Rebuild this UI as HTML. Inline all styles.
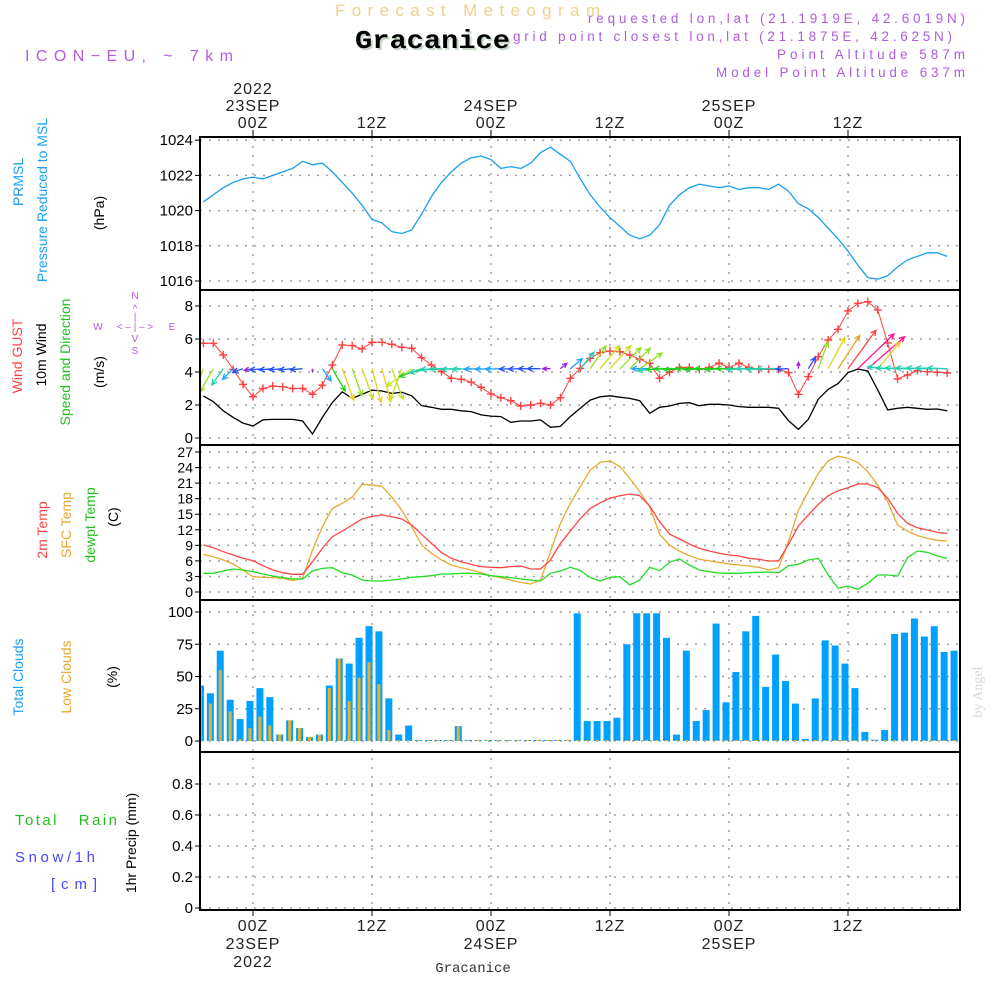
<!DOCTYPE html>
<html><head><meta charset="utf-8">
<style>
html,body{margin:0;padding:0;background:#fff;}
svg{display:block;font-family:"Liberation Sans",sans-serif;}
</style></head>
<body>
<svg id="c" width="1000" height="1000" viewBox="0 0 1000 1000" xmlns="http://www.w3.org/2000/svg">
<!-- header -->
<text x="335" y="16" font-size="17" fill="#f3cf8c" textLength="265" lengthAdjust="spacing">Forecast Meteogram</text>
<text x="357" y="50" font-size="26" font-weight="bold" font-family="Liberation Mono, monospace" fill="#c8d8c8" textLength="155" lengthAdjust="spacingAndGlyphs">Gracanice</text>
<text x="355" y="48" font-size="26" font-weight="bold" font-family="Liberation Mono, monospace" fill="#000" textLength="155" lengthAdjust="spacingAndGlyphs">Gracanice</text>
<text x="25" y="61" font-size="16" fill="#b05ce0" textLength="208" lengthAdjust="spacing">ICON−EU, ~ 7km</text>
<g font-size="13.5" fill="#b05ce0">
<text x="588" y="23" textLength="377" lengthAdjust="spacing">requested lon,lat (21.1919E, 42.6019N)</text>
<text x="513" y="41" textLength="439" lengthAdjust="spacing">grid point closest lon,lat (21.1875E, 42.625N)</text>
<text x="777" y="59" textLength="188" lengthAdjust="spacing">Point Altitude 587m</text>
<text x="716" y="77" textLength="249" lengthAdjust="spacing">Model Point Altitude 637m</text>
</g>
<!-- left titles -->
<g font-size="14">
<text transform="translate(23,182) rotate(-90)" text-anchor="middle" fill="#1aa0f0">PRMSL</text>
<text transform="translate(47,200) rotate(-90)" text-anchor="middle" fill="#1aa0f0">Pressure Reduced to MSL</text>
<text transform="translate(104,213) rotate(-90)" text-anchor="middle" fill="#000">(hPa)</text>
<text transform="translate(22,356) rotate(-90)" text-anchor="middle" fill="#ff4040">Wind GUST</text>
<text transform="translate(46,355) rotate(-90)" text-anchor="middle" fill="#000">10m Wind</text>
<text transform="translate(70,362) rotate(-90)" text-anchor="middle" fill="#20c020">Speed and Direction</text>
<text transform="translate(104,372) rotate(-90)" text-anchor="middle" fill="#000">(m/s)</text>
<text transform="translate(47,530) rotate(-90)" text-anchor="middle" fill="#ff4040">2m Temp</text>
<text transform="translate(71,525) rotate(-90)" text-anchor="middle" fill="#e8a830">SFC Temp</text>
<text transform="translate(95,525) rotate(-90)" text-anchor="middle" fill="#20c020">dewpt Temp</text>
<text transform="translate(118,517) rotate(-90)" text-anchor="middle" fill="#000">(C)</text>
<text transform="translate(23,677) rotate(-90)" text-anchor="middle" fill="#1aa0f0">Total Clouds</text>
<text transform="translate(71,677) rotate(-90)" text-anchor="middle" fill="#e8a830">Low Clouds</text>
<text transform="translate(117,677) rotate(-90)" text-anchor="middle" fill="#000">(%)</text>
<text transform="translate(136,843) rotate(-90)" text-anchor="middle" fill="#000">1hr Precip (mm)</text>
</g>
<g font-size="15">
<text x="15" y="825" fill="#20c020" textLength="102" lengthAdjust="spacing">Total&#160;&#160;&#160;Rain</text>
<text x="15" y="862" fill="#4848ff" textLength="80" lengthAdjust="spacing">Snow/1h</text>
<text x="51" y="889" fill="#4848ff" textLength="46" lengthAdjust="spacing">[cm]</text>
</g>
<!-- compass -->
<g fill="#b05ce0" font-size="10" text-anchor="middle">
<text x="135" y="299">N</text><text x="135" y="312">^</text><text x="135" y="320">|</text>
<text x="135" y="330">&lt; – | – &gt;</text>
<text x="98" y="330">W</text><text x="172" y="330">E</text>
<text x="135" y="342">V</text><text x="135" y="354">S</text>
</g>
<text transform="translate(982,692) rotate(-90)" text-anchor="middle" font-size="14" font-family="Liberation Serif, serif" fill="#d8d8d8">by Angel</text>
<text x="473" y="972" text-anchor="middle" font-size="14" font-family="Liberation Mono, monospace" fill="#333">Gracanice</text>
<g id="plot"></g>
</svg>
<script>
const hours = [];for(let h=-5;h<=70;h++)hours.push(h);
const pressure=[1020.5,1020.9,1021.3,1021.6,1021.8,1021.9,1021.8,1022.0,1022.2,1022.4,1022.8,1022.6,1022.7,1022.2,1021.6,1021.0,1020.3,1019.5,1019.3,1018.8,1018.7,1018.9,1019.8,1020.8,1021.6,1022.2,1022.7,1023.0,1023.1,1022.9,1022.4,1022.5,1022.4,1022.7,1023.3,1023.6,1023.2,1022.8,1021.8,1020.9,1020.2,1019.6,1019.1,1018.6,1018.4,1018.6,1019.2,1020.3,1020.9,1021.3,1021.5,1021.4,1021.3,1021.4,1021.2,1021.3,1021.3,1021.2,1021.5,1021.1,1020.4,1020.1,1019.6,1019.0,1018.4,1017.7,1016.9,1016.2,1016.1,1016.3,1016.8,1017.2,1017.4,1017.6,1017.6,1017.4];
const wind10=[2.55,2.2,1.65,1.25,0.9,0.73,1.1,1.13,1.13,1.13,1.03,0.24,1.25,2.15,2.8,2.4,2.65,2.9,2.85,2.7,2.77,2.56,1.96,1.86,1.74,1.74,1.65,1.6,1.4,1.33,1.3,0.95,1.03,1.03,1.1,0.65,0.7,1.3,1.8,2.3,2.5,2.56,2.47,2.4,2.26,1.5,1.86,1.94,2.1,2.14,1.96,2.04,2.04,2.0,1.9,1.86,1.86,1.86,1.8,1.05,0.53,1.13,2.35,2.95,3.3,3.96,4.18,4.06,2.9,1.7,1.8,1.86,1.8,1.74,1.76,1.65];
const gust=[5.74,5.74,5.03,4.16,3.25,2.5,3.0,3.15,3.1,3.0,3.0,2.65,3.2,4.42,5.64,5.6,5.4,5.8,5.8,5.68,5.5,5.44,4.87,4.42,4.02,3.62,3.56,3.38,3.07,2.67,2.44,2.26,1.94,2.0,2.1,2.0,2.44,3.62,4.22,4.83,5.17,5.27,5.23,5.03,4.77,4.53,3.62,3.98,4.28,4.28,4.16,4.28,4.53,4.28,4.53,4.28,4.16,4.16,4.16,3.96,2.65,3.72,4.93,5.94,6.59,7.7,8.16,8.26,7.76,5.76,3.58,3.82,4.08,4.02,3.98,3.94];
const windDir=[250,240,235,225,200,190,185,185,185,185,185,270,305,300,290,290,290,285,285,290,250,215,200,190,182,182,182,182,182,182,182,182,182,180,180,180,40,40,50,55,50,48,45,45,35,180,185,182,180,182,180,182,180,182,180,182,180,182,180,182,90,58,70,62,57,54,44,41,50,175,178,178,178,178,178,178];
const t2m=[9.06,8.55,7.78,7.14,6.49,6.04,5.08,4.24,3.73,3.41,3.41,5.85,8.42,10.67,11.76,12.92,14.08,14.59,14.85,14.53,14.08,12.92,11.12,9.38,7.59,6.49,5.85,5.33,4.89,4.76,4.69,4.89,5.01,4.44,4.44,6.17,9.38,11.76,14.14,16.1,17.2,18.07,18.58,18.9,18.58,16.59,13.56,11.19,10.22,9.26,8.42,7.91,7.46,7.14,6.94,6.49,6.3,5.98,5.98,9.19,12.73,14.85,16.9,18.58,19.54,20.12,20.83,20.83,20.12,18.07,15.17,13.24,12.41,11.96,11.5,11.31];
const sfcTemp=[7.26,6.81,6.17,5.4,4.24,2.96,2.83,2.77,2.64,2.19,2.64,8.1,12.6,16.1,17.1,18.3,20.8,20.6,20.4,18.3,15.8,12.6,9.06,7.46,6.17,5.2,4.69,4.24,3.73,3.15,2.77,2.31,1.86,1.54,2.31,7.78,13.24,17.1,20.3,23.5,25.0,25.3,24.2,21.9,19.35,16.46,11.12,9.06,7.91,7.01,6.3,6.0,5.72,5.4,5.2,5.01,4.76,4.24,4.69,9.71,15.8,19.35,22.9,25.3,26.2,25.8,25.0,23.2,20.6,17.4,12.9,11.76,10.87,10.35,9.97,9.84];
const dewpt=[3.6,3.6,4.05,4.44,4.24,3.92,3.47,3.09,2.77,2.51,2.51,4.05,4.56,4.69,3.73,3.28,2.31,2.12,2.12,2.31,2.51,2.83,2.96,3.15,3.47,3.47,3.6,3.6,3.47,3.15,2.96,2.77,2.51,2.31,2.12,3.6,4.05,4.76,4.15,2.77,2.12,2.83,2.96,1.35,2.31,4.76,4.11,5.72,6.36,5.2,4.24,3.92,3.66,3.6,3.6,3.73,3.79,3.86,3.73,5.08,5.33,6.17,6.49,3.28,0.71,1.16,0.51,1.67,3.28,3.28,3.09,6.62,7.91,7.65,6.94,6.49];
const cloudHours=[];for(let h=-5;h<=71;h++)cloudHours.push(h);
const totalCloud=[43,37,70,32,17,31,41,34,5,16,10,3,5,43,64,60,80,89,85,33,5,12,0,0,0,0,11.6,0,0,0,0,0,0,0,0,0,0,0,99,15.5,15.5,15.5,18,75,99,99,99,80,5,70,15.5,24,91,30,53.5,85,97,42,67,46.5,29,1.6,33,78,74,60,41,7,1,8.5,83,84,95,81,89,69,70,70];
const lowCloud=[41,29,55,23,1.5,10,19,12,5,16,10,3,5,41,64,31,49,61,44,8.5,0,0,0,0,0,0,11.6,0,0,0,0,0,0,0,0,0,0,0,0,0,0,0,0,0,0,0,0,0,0,0,0,0,0,0,0,0,0,0,0,0,0,0,0,0,0,0,0,0,0,0,0,0,0,0,0,0,0];
const precip=cloudHours.map(()=>0);
const pTicks=[1016,1018,1020,1022,1024];
const wTicks=[0,2,4,6,8];
const tTicks=[0,3,6,9,12,15,18,21,24,27];
const cTicks=[0,25,50,75,100];
const rTicks=[0,0.2,0.4,0.6,0.8];
const rTickLabels=["0","0.2","0.4","0.6","0.8"];
const timeTickHours=[0,12,24,36,48,60];
const timeTickLabels=["00Z","12Z","00Z","12Z","00Z","12Z"];

const NS="http://www.w3.org/2000/svg";
const plot=document.getElementById('plot');
function mk(tag,attrs,parent){const e=document.createElementNS(NS,tag);for(const k in attrs)e.setAttribute(k,attrs[k]);(parent||plot).appendChild(e);return e;}
const X0=200,X1=960;
const xs=h=>253+h*119/12;
const yP=v=>281-(v-1016)*17.6;
const yW=v=>438-v*16.5;
const yT=v=>592-v*5.185;
const yC=v=>741-v*1.29;
const yR=v=>908-v*155;
const panels=[[137,290],[290,445],[445,600],[600,752],[752,910]];

const defs=mk('defs',{});
const cp=mk('clipPath',{id:'clip'},defs);
mk('rect',{x:X0,y:137,width:X1-X0,height:773},cp);

function hgrid(ticks,fy,labels,fs){
  ticks.forEach((t,i)=>{
    const y=fy(t);
    const g=mk('line',{x1:X0,x2:X1,y1:y,y2:y,stroke:'#a0a0a0','stroke-width':1.5,'stroke-dasharray':'2,7'});
    
    
    mk('line',{x1:X0-5,x2:X0,y1:y,y2:y,stroke:'#000'});
    const tx=mk('text',{x:X0-7,y:y+5,'text-anchor':'end','font-size':fs||15,fill:'#000'});
    tx.textContent=labels?labels[i]:String(t);
    
    
  });
}
hgrid(pTicks,yP);hgrid(wTicks,yW);hgrid(tTicks,yT,null,14);hgrid(cTicks,yC);hgrid(rTicks,yR,rTickLabels);
timeTickHours.forEach((h,i)=>{
  const x=xs(h);
  const g=mk('line',{x1:x,x2:x,y1:137,y2:910,stroke:'#a0a0a0','stroke-width':1.5,'stroke-dasharray':'2,7'});
  
  
  mk('line',{x1:x,x2:x,y1:130,y2:137,stroke:'#000'});
  mk('line',{x1:x,x2:x,y1:910,y2:916,stroke:'#000'});
  const t=mk('text',{x:x,y:128,'text-anchor':'middle','font-size':16,fill:'#222','letter-spacing':1});
  t.textContent=timeTickLabels[i];
  
  
  const b=mk('text',{x:x,y:931,'text-anchor':'middle','font-size':16,fill:'#222','letter-spacing':1});
  b.textContent=timeTickLabels[i];
  
  
});
[[0,'23SEP'],[24,'24SEP'],[48,'25SEP']].forEach(d=>{
  const t=mk('text',{x:xs(d[0]),y:111,'text-anchor':'middle','font-size':16,fill:'#222','letter-spacing':1});t.textContent=d[1];
  
  
  const b=mk('text',{x:xs(d[0]),y:949,'text-anchor':'middle','font-size':16,fill:'#222','letter-spacing':1});b.textContent=d[1];
  
  
});
const y1=mk('text',{x:xs(0),y:94,'text-anchor':'middle','font-size':16,fill:'#222','letter-spacing':1});y1.textContent='2022';


const y2=mk('text',{x:xs(0),y:967,'text-anchor':'middle','font-size':16,fill:'#222','letter-spacing':1});y2.textContent='2022';



const data=mk('g',{'clip-path':'url(#clip)'});
function line(vals,fy,color,name,w){
  const d=vals.map((v,i)=>(i?'L':'M')+xs(hours[i]).toFixed(1)+','+fy(v).toFixed(1)).join('');
  const p=mk('path',{d:d,fill:'none',stroke:color,'stroke-width':w||1.3},data);
  
  
}
cloudHours.forEach((h,i)=>{
  const x=xs(h)-3;
  const ht=Math.max(1,totalCloud[i]*1.29);
  const r=mk('rect',{x:x-3.5,y:741-ht,width:7,height:ht,fill:'#00a0ff'},data);
  
  
  const hl=Math.max(1,lowCloud[i]*1.29);
  const r2=mk('rect',{x:x-1.5,y:741-hl,width:3,height:hl,fill:'#e8b030'},data);
  
  
  if(precip[i]>0){const r3=mk('rect',{x:x-3.5,y:yR(precip[i]),width:7,height:908-yR(precip[i]),fill:'#20c020'},data);
  
  }
});
line(pressure,yP,'#1aa0f0','pressure-line');
line(wind10,yW,'#000','wind10-line');
line(gust,yW,'#ff4040','gust-line',1);
gust.forEach((v,i)=>{
  const x=xs(hours[i]),y=yW(v);
  const m=mk('path',{d:`M${x-4},${y}H${x+4}M${x},${y-4}V${y+4}`,stroke:'#ff4040','stroke-width':1.4},data);
  
  
});
function wcol(s){
  if(s<0.8)return '#9a20e0';if(s<1.2)return '#2050ff';if(s<1.6)return '#20a0ff';if(s<1.9)return '#20d0b0';
  if(s<2.2)return '#20d020';if(s<2.5)return '#90e020';if(s<2.8)return '#c8e020';if(s<3.1)return '#e8d020';
  if(s<3.5)return '#e8a020';if(s<4.0)return '#ff4040';return '#ff1090';
}
windDir.forEach((a,i)=>{
  const s=wind10[i],L=s*12,r=a*Math.PI/180;
  const x0=xs(hours[i]),y0=yW(4.2);
  const x1=x0+L*Math.cos(r),y1=y0-L*Math.sin(r);
  const hl=Math.min(6,L*0.6);
  const h1=r+Math.PI-0.45,h2=r+Math.PI+0.45;
  const d=`M${x0},${y0}L${x1},${y1}M${x1+hl*Math.cos(h1)},${y1-hl*Math.sin(h1)}L${x1},${y1}L${x1+hl*Math.cos(h2)},${y1-hl*Math.sin(h2)}`;
  const p=mk('path',{d:d,fill:'none',stroke:wcol(s),'stroke-width':1.3},data);
  
  
});
line(sfcTemp,yT,'#e8a830','sfc-temp-line');
line(t2m,yT,'#ff4444','t2m-line');
line(dewpt,yT,'#22dd22','dewpt-line');
panels.forEach(p=>{
  const r=mk('rect',{x:X0,y:p[0],width:X1-X0,height:p[1]-p[0],fill:'none',stroke:'#000','stroke-width':2});
  
  
});
</script>
</body></html>
